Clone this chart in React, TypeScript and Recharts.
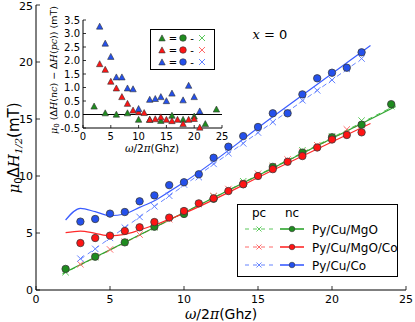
import React from "react";
import { ComposedChart, Line, Scatter, XAxis, YAxis, ReferenceLine, Legend, CartesianGrid } from "recharts";

const SANS = "DejaVu Sans";
const SERIF = "DejaVu Serif";

// ---- main panel: linewidth vs frequency (nc = dots, pc = crosses)
const greenFreq = [2, 4, 6, 8, 10, 12, 14, 16, 18, 20, 22, 24];
const greenNc = [1.85, 2.92, 4.18, 5.55, 6.67, 8.0, 9.3, 10.8, 12.05, 13.4, 14.5, 16.3];
const greenPc = [1.56, 2.88, 4.19, 5.51, 6.87, 8.2, 9.54, 10.85, 12.25, 13.48, 14.86, 16.12];

const redFreq = [3, 4, 5, 6, 7, 8, 9, 10, 11, 12, 13, 14, 15, 16, 17, 18, 19, 20, 21, 22];
const redNc = [4.12, 4.56, 4.77, 5.18, 5.5, 5.96, 6.35, 6.93, 7.6, 8.04, 8.68, 9.27, 10.0, 10.6, 11.25, 11.75, 12.5, 13.2, 13.6, 13.83];
const redPc = [2.26, 2.91, 3.56, 4.22, 4.86, 5.57, 6.21, 6.85, 7.53, 8.24, 8.86, 9.38, 10.2, 10.84, 11.45, 12.11, 12.7, 13.4, 14.09, 14.45];

const blueFreq = [3, 4, 5, 6, 7, 8, 9, 10, 11, 12, 13, 14, 15, 16, 17, 18, 19, 20, 21, 22];
const blueNc = [6.0, 6.23, 6.7, 6.84, 7.78, 8.3, 9.2, 9.45, 10.15, 11.6, 12.57, 13.5, 14.3, 15.5, 15.5, 17.16, 18.57, 19.06, 19.5, 20.85];
const bluePc = [2.75, 3.61, 4.57, 5.47, 6.41, 7.34, 8.27, 9.25, 9.9, 11.06, 12.0, 12.86, 13.81, 14.73, 15.6, 16.64, 17.51, 18.42, 19.39, 20.3];

// fitted curves
const greenFitF = [1.8, 24.3];
const greenFitNc = [1.45, 16.1];
const greenFitPc = [1.4, 16.2];
const redFitF = [2, 3, 4, 5, 6, 7, 8, 9, 10, 16, 22.6];
const redFitNc = [5.03, 5.17, 4.97, 4.75, 4.88, 5.26, 5.7, 6.2, 6.73, 10.5, 14.6];
const redPcFitF = [3, 22.5];
const redPcFit = [2.2, 14.9];
const blueFitF = [2, 3, 4, 5, 6, 7, 8, 9, 10, 16, 22.6];
const blueFitNc = [6.14, 7.16, 6.87, 6.52, 6.67, 7.25, 7.83, 8.63, 9.45, 15.2, 21.45];
const bluePcFitF = [3, 21.7];
const bluePcFit = [2.7, 20.0];

// ---- inset: nc - pc
const dGreenF = [2, 4, 6, 8, 10, 12, 14, 16, 18, 20, 22, 24];
const dGreen = [0.29, 0.04, -0.01, 0.04, -0.2, -0.2, -0.24, -0.05, -0.2, -0.08, -0.36, 0.18];
const dRedF = [3, 4, 5, 6, 7, 8, 9, 10, 11, 12, 13, 14, 15, 16, 17, 18, 19, 20, 21];
const dRed = [1.86, 1.65, 1.21, 0.96, 0.64, 0.39, 0.14, 0.08, 0.05, -0.2, -0.18, -0.11, -0.2, -0.25, -0.2, -0.36, -0.2, -0.17, -0.49];
const dBlueF = [3, 4, 5, 6, 7, 8, 9, 10, 12, 13, 14, 15, 16, 18, 19, 20, 21];
const dBlue = [3.25, 2.62, 2.13, 1.37, 1.37, 0.96, 0.93, 0.2, 0.54, 0.57, 0.64, 0.49, 0.77, 0.52, 1.06, 0.64, 0.11];

const mainTicks = [0, 5, 10, 15, 20, 25];
const insetXTicks = [0, 5, 10, 15, 20, 25];
const insetYTicks = [-0.5, 0, 0.5, 1, 1.5, 2, 2.5, 3, 3.5];
const sampleNames = ["Py/Cu/MgO", "Py/Cu/MgO/Co", "Py/Cu/Co"];

const DOT = ["#1f8c1f", "#ff1414", "#2450ec"];
const NCLINE = ["#2ea52e", "#ff2a2a", "#3a5cff"];
const PCLINE = ["#5cc85c", "#ff6a6a", "#6684ff"];

const pts = (xs: number[], ys: number[]) => xs.map((x, i) => ({ x, y: ys[i] }));

const circle = (fill: string, r = 3.7) => (p: any) => (
  <circle cx={p.cx} cy={p.cy} r={r} fill={fill} stroke="#3a3a3a" strokeWidth={0.8} />
);
const cross = (color: string, s = 3.2) => (p: any) => (
  <g stroke={color} strokeWidth={1}>
    <line x1={p.cx - s} y1={p.cy - s} x2={p.cx + s} y2={p.cy + s} />
    <line x1={p.cx - s} y1={p.cy + s} x2={p.cx + s} y2={p.cy - s} />
  </g>
);
const tri = (fill: string) => (p: any) => (
  <polygon
    points={`${p.cx},${p.cy - 3.6} ${p.cx - 3.2},${p.cy + 2.4} ${p.cx + 3.2},${p.cy + 2.4}`}
    fill={fill}
    stroke="#333"
    strokeWidth={0.6}
  />
);

// inward ticks, matplotlib style
function tick(side: string, len: number, fs: number, show: boolean, fmt = (v: number) => String(v)) {
  return (p: any) => {
    const { x, y } = p;
    const v = p.payload.value;
    let l = [x, y, x, y];
    let t: any = null;
    if (side === "bottom") {
      l = [x, y, x, y - len];
      if (show) t = <text x={x} y={y + fs + 1.5} textAnchor="middle" fontSize={fs} fontFamily={SANS} fill="#000">{fmt(v)}</text>;
    } else if (side === "top") {
      l = [x, y, x, y + len];
    } else if (side === "left") {
      l = [x, y, x + len, y];
      if (show) t = <text x={x - 3} y={Math.max(y + fs * 0.36, fs * 0.92)} textAnchor="end" fontSize={fs} fontFamily={SANS} fill="#000">{fmt(v)}</text>;
    } else {
      l = [x, y, x - len, y];
    }
    return (
      <g>
        <line x1={l[0]} y1={l[1]} x2={l[2]} y2={l[3]} stroke="#000" strokeWidth={0.8} />
        {t}
      </g>
    );
  };
}

function MainLegend() {
  return (
    <svg width={162} height={74} style={{ display: "block" }}>
      <rect x={0.5} y={0.5} width={160} height={72} fill="#fff" stroke="#000" />
      <text x={22} y={12.5} textAnchor="middle" fontSize={12} fontFamily={SANS}>pc</text>
      <text x={55} y={12.5} textAnchor="middle" fontSize={12} fontFamily={SANS}>nc</text>
      {sampleNames.map((name, i) => {
        const ry = 25 + i * 18;
        return (
          <g key={name}>
            <line x1={8} x2={36} y1={ry} y2={ry} stroke={PCLINE[i]} strokeDasharray="4 4" />
            {cross(PCLINE[i], 2.5)({ cx: 22, cy: ry })}
            <line x1={43} x2={67} y1={ry} y2={ry} stroke={NCLINE[i]} strokeWidth={1.6} />
            <circle cx={55} cy={ry} r={2.8} fill={DOT[i]} stroke="#333" strokeWidth={0.6} />
            <text x={75} y={ry + 4.5} fontSize={12} fontFamily={SANS}>{name}</text>
          </g>
        );
      })}
    </svg>
  );
}

function InsetLegend() {
  return (
    <svg width={66} height={42} style={{ display: "block" }}>
      <rect x={0.5} y={0.5} width={64} height={40} fill="#fff" stroke="#000" />
      {sampleNames.map((name, i) => {
        const ry = 9 + i * 12;
        return (
          <g key={name}>
            {tri(DOT[i])({ cx: 12, cy: ry + 0.5 })}
            <text x={23} y={ry + 3.5} textAnchor="middle" fontSize={10} fontFamily={SANS}>=</text>
            <circle cx={33} cy={ry} r={3.3} fill={DOT[i]} stroke="#333" strokeWidth={0.6} />
            <text x={42} y={ry + 3.5} textAnchor="middle" fontSize={10} fontFamily={SANS}>-</text>
            {cross(PCLINE[i], 3)({ cx: 52, cy: ry })}
          </g>
        );
      })}
    </svg>
  );
}

const ax = { xAxisId: "b", yAxisId: "l" };

export default function App() {
  return (
    <div style={{ position: "absolute", left: 0, top: 0, width: 415, height: 322, background: "#fff" }}>
      <div style={{ position: "absolute", left: 0, top: 0 }}>
        <ComposedChart width={415} height={322} margin={{ top: 5, right: 9, bottom: 0, left: 0 }}>
          <XAxis xAxisId="b" dataKey="x" type="number" domain={[0, 25]} ticks={mainTicks} interval={0} height={32}
            tickSize={0} tickMargin={0} tickLine={false} tick={tick("bottom", 4, 11, true)} axisLine={{ stroke: "#000" }} />
          <XAxis xAxisId="t" orientation="top" dataKey="x" type="number" domain={[0, 25]} ticks={mainTicks} interval={0} height={0}
            tickSize={0} tickMargin={0} tickLine={false} tick={tick("top", 4, 0, false)} axisLine={{ stroke: "#000" }} />
          <YAxis yAxisId="l" type="number" domain={[0, 25]} ticks={mainTicks} interval={0} width={36}
            tickSize={0} tickMargin={0} tickLine={false} tick={tick("left", 4, 11, true)} axisLine={{ stroke: "#000" }} />
          <YAxis yAxisId="r" orientation="right" type="number" domain={[0, 25]} ticks={mainTicks} interval={0} width={0}
            tickSize={0} tickMargin={0} tickLine={false} tick={tick("right", 4, 0, false)} axisLine={{ stroke: "#000" }} />

          <Line {...ax} data={pts(greenFitF, greenFitPc)} dataKey="y" stroke={PCLINE[0]} strokeDasharray="5 4" dot={false} activeDot={false} isAnimationActive={false} />
          <Line {...ax} data={pts(redPcFitF, redPcFit)} dataKey="y" stroke={PCLINE[1]} strokeDasharray="5 4" dot={false} activeDot={false} isAnimationActive={false} />
          <Line {...ax} data={pts(bluePcFitF, bluePcFit)} dataKey="y" stroke={PCLINE[2]} strokeDasharray="5 4" dot={false} activeDot={false} isAnimationActive={false} />
          <Scatter {...ax} data={pts(greenFreq, greenPc)} dataKey="y" shape={cross(PCLINE[0])} isAnimationActive={false} />
          <Scatter {...ax} data={pts(redFreq, redPc)} dataKey="y" shape={cross(PCLINE[1])} isAnimationActive={false} />
          <Scatter {...ax} data={pts(blueFreq, bluePc)} dataKey="y" shape={cross(PCLINE[2])} isAnimationActive={false} />

          <Line {...ax} data={pts(greenFitF, greenFitNc)} dataKey="y" stroke={NCLINE[0]} strokeWidth={1.2} dot={false} activeDot={false} isAnimationActive={false} />
          <Line {...ax} type="monotone" data={pts(redFitF, redFitNc)} dataKey="y" stroke={NCLINE[1]} strokeWidth={1.2} dot={false} activeDot={false} isAnimationActive={false} />
          <Line {...ax} type="monotone" data={pts(blueFitF, blueFitNc)} dataKey="y" stroke={NCLINE[2]} strokeWidth={1.2} dot={false} activeDot={false} isAnimationActive={false} />
          <Scatter {...ax} data={pts(greenFreq, greenNc)} dataKey="y" shape={circle(DOT[0])} isAnimationActive={false} />
          <Scatter {...ax} data={pts(redFreq, redNc)} dataKey="y" shape={circle(DOT[1])} isAnimationActive={false} />
          <Scatter {...ax} data={pts(blueFreq, blueNc)} dataKey="y" shape={circle(DOT[2])} isAnimationActive={false} />

          <Legend verticalAlign="middle" align="center" layout="vertical" content={() => <MainLegend />}
            wrapperStyle={{ position: "absolute", left: 237, top: 204, width: 162, height: 74 }} />
        </ComposedChart>
      </div>

      <div style={{ position: "absolute", left: 0, top: 0 }}>
        <ComposedChart width={240} height={160} margin={{ top: 20, right: 18, bottom: 0, left: 43 }}>
          <CartesianGrid {...ax} fill="#fff" stroke="none" />
          <XAxis xAxisId="b" dataKey="x" type="number" domain={[0, 25]} ticks={insetXTicks} interval={0} height={32}
            tickSize={0} tickMargin={0} tickLine={false} tick={tick("bottom", 3, 10, true)} axisLine={{ stroke: "#000" }} />
          <XAxis xAxisId="t" orientation="top" dataKey="x" type="number" domain={[0, 25]} ticks={insetXTicks} interval={0} height={0}
            tickSize={0} tickMargin={0} tickLine={false} tick={tick("top", 3, 0, false)} axisLine={{ stroke: "#000" }} />
          <YAxis yAxisId="l" type="number" domain={[-0.5, 3.5]} ticks={insetYTicks} interval={0} width={40}
            tickSize={0} tickMargin={0} tickLine={false} tick={tick("left", 3, 10, true, (v) => v.toFixed(1))} axisLine={{ stroke: "#000" }} />
          <YAxis yAxisId="r" orientation="right" type="number" domain={[-0.5, 3.5]} ticks={insetYTicks} interval={0} width={0}
            tickSize={0} tickMargin={0} tickLine={false} tick={tick("right", 3, 0, false)} axisLine={{ stroke: "#000" }} />
          <ReferenceLine {...ax} y={0} stroke="#000" strokeWidth={1} />
          <Scatter {...ax} data={pts(dGreenF, dGreen)} dataKey="y" shape={tri(DOT[0])} isAnimationActive={false} />
          <Scatter {...ax} data={pts(dRedF, dRed)} dataKey="y" shape={tri(DOT[1])} isAnimationActive={false} />
          <Scatter {...ax} data={pts(dBlueF, dBlue)} dataKey="y" shape={tri(DOT[2])} isAnimationActive={false} />
          <Legend verticalAlign="middle" align="center" layout="vertical" content={() => <InsetLegend />}
            wrapperStyle={{ position: "absolute", left: 150, top: 29, width: 66, height: 42 }} />
        </ComposedChart>
      </div>

      <svg width={415} height={322} style={{ position: "absolute", left: 0, top: 0, pointerEvents: "none" }}>
        <text x={221} y={318.5} textAnchor="middle" fontSize={14} fontFamily={SANS}>
          <tspan fontFamily={SERIF} fontStyle="italic">ω</tspan>/2<tspan fontFamily={SERIF} fontStyle="italic">π</tspan>(Ghz)
        </text>
        <text transform="translate(19,148) rotate(-90)" textAnchor="middle" fontSize={15} fontFamily={SANS}>
          <tspan fontFamily={SERIF} fontStyle="italic">μ</tspan>
          <tspan fontSize={10} dy={3}>0</tspan>
          <tspan dy={-3}>Δ</tspan>
          <tspan fontFamily={SERIF} fontStyle="italic">H</tspan>
          <tspan fontSize={10} fontFamily={SERIF} fontStyle="italic" dy={3}>1/2</tspan>
          <tspan dy={-3}>(mT)</tspan>
        </text>
        <text x={152} y={152} textAnchor="middle" fontSize={10.5} fontFamily={SANS}>
          <tspan fontFamily={SERIF} fontStyle="italic">ω</tspan>/2<tspan fontFamily={SERIF} fontStyle="italic">π</tspan>(Ghz)
        </text>
        <text transform="translate(57,70) rotate(-90)" textAnchor="middle" fontSize={9.5} fontFamily={SANS}>
          <tspan fontFamily={SERIF} fontStyle="italic">μ</tspan>
          <tspan fontSize={7} dy={2}>0</tspan>
          <tspan dy={-2}> (Δ</tspan>
          <tspan fontFamily={SERIF} fontStyle="italic">H</tspan>
          <tspan>(</tspan>
          <tspan fontFamily={SERIF} fontStyle="italic">nc</tspan>
          <tspan>) − Δ</tspan>
          <tspan fontFamily={SERIF} fontStyle="italic">H</tspan>
          <tspan>(</tspan>
          <tspan fontFamily={SERIF} fontStyle="italic">pc</tspan>
          <tspan>)) (mT)</tspan>
        </text>
        <text x={270} y={39} textAnchor="middle" fontSize={13} fontFamily={SANS}>
          <tspan fontFamily={SERIF} fontStyle="italic">x</tspan> = 0
        </text>
      </svg>
    </div>
  );
}
